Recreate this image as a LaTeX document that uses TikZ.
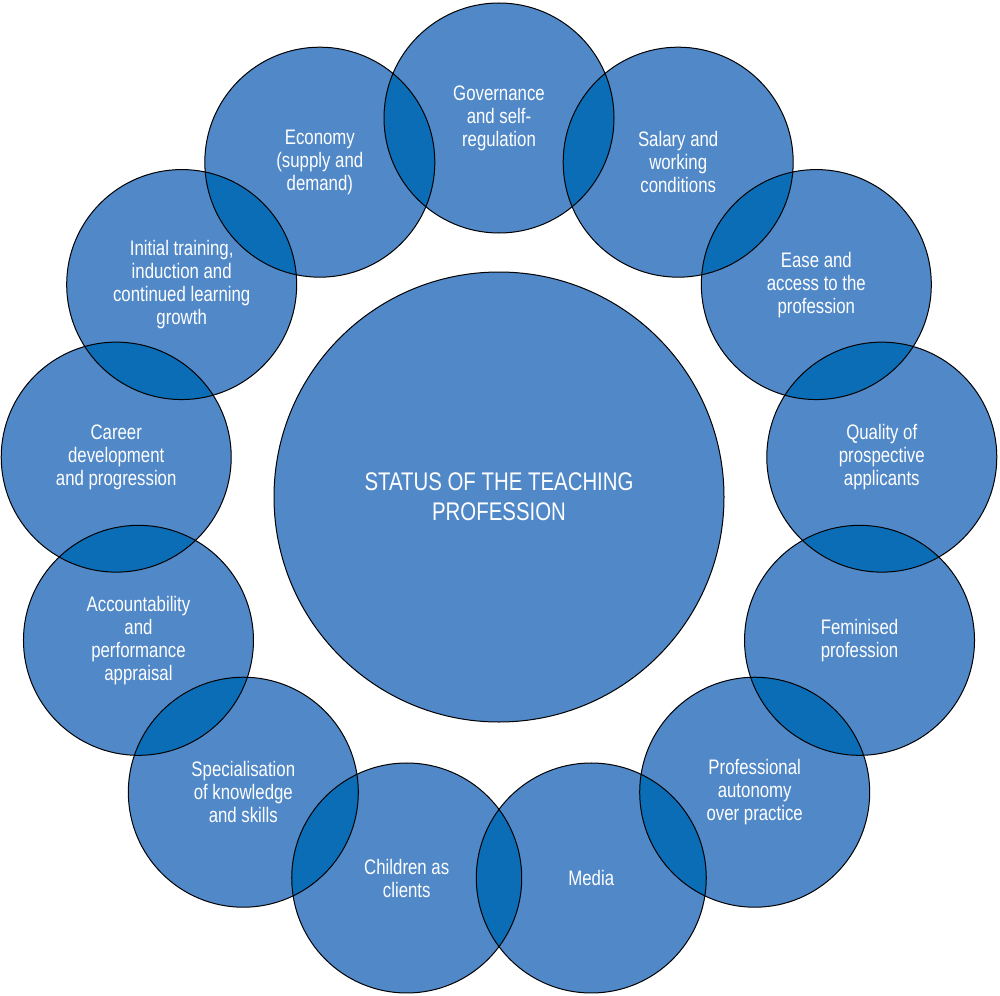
\documentclass[tikz,border=0pt]{standalone}
\usepackage{fontspec}
\setmainfont{Liberation Sans}[FakeStretch=0.80]
\definecolor{lightb}{HTML}{5088C8}
\definecolor{darkb}{HTML}{0A6DB5}
\tikzset{
  bub/.style={circle, minimum size=230pt, inner sep=0pt, draw=black, line width=1pt, text=white, align=center, font=\fontsize{21}{23}\selectfont},
  hub/.style={circle, minimum size=450pt, inner sep=0pt, draw=black, line width=1pt, fill=lightb, text=white, align=center, font=\fontsize{25.5}{30}\selectfont}
}
\begin{document}
\begin{tikzpicture}[x=1pt,y=-1pt]
\useasboundingbox (0,0) rectangle (1000,995);
% ring positions
\foreach \k in {0,...,12}{
  \pgfmathsetmacro{\ang}{90-\k*360/13}
  \coordinate (p\k) at ({499+385.6*cos(\ang)},{503.6-385.6*sin(\ang)});
}
% fills
\foreach \k in {0,...,12}{ \fill[lightb] (p\k) circle (115); }
% overlaps
\foreach \k [evaluate=\k as \j using {int(mod(\k+1,13))}] in {0,...,12}{
  \begin{scope}
    \clip (p\k) circle (115);
    \fill[darkb] (p\j) circle (115);
  \end{scope}
}
% hub
\node[hub] (hub) at (499,497) {STATUS OF THE TEACHING\\PROFESSION};
% bubbles
\node[bub] (n0) at (p0) {Governance\\and self-\\regulation};
\node[bub] (n1) at (p1) {Salary and\\working\\conditions};
\node[bub] (n2) at (p2) {Ease and\\access to the\\profession};
\node[bub] (n3) at (p3) {Quality of\\prospective\\applicants};
\node[bub] (n4) at (p4) {Feminised\\profession};
\node[bub] (n5) at (p5) {Professional\\autonomy\\over practice};
\node[bub] (n6) at (p6) {Media};
\node[bub] (n7) at (p7) {Children as\\clients};
\node[bub] (n8) at (p8) {Specialisation\\of knowledge\\and skills};
\node[bub] (n9) at (p9) {Accountability\\and\\performance\\appraisal};
\node[bub] (n10) at (p10) {Career\\development\\and progression};
\node[bub] (n11) at (p11) {Initial training,\\induction and\\continued learning\\growth};
\node[bub] (n12) at (p12) {Economy\\(supply and\\demand)};
\end{tikzpicture}
\end{document}
